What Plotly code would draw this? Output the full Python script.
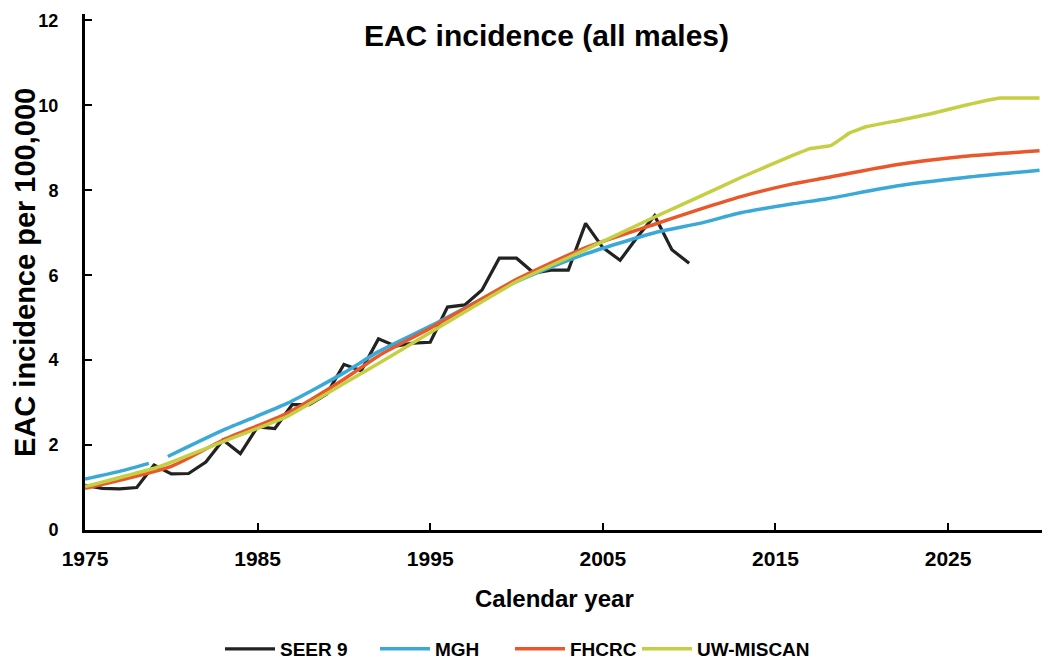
import plotly.graph_objects as go

# SEER 9 observed incidence (per 100,000)
seer_years = list(range(1975, 2011))
seer_vals = [1.05, 0.98, 0.97, 1.0, 1.53, 1.32, 1.33, 1.6, 2.12, 1.8,
             2.43, 2.39, 2.95, 2.95, 3.2, 3.9, 3.75, 4.5, 4.33, 4.4,
             4.42, 5.25, 5.3, 5.65, 6.4, 6.4, 6.05, 6.12, 6.12, 7.22,
             6.65, 6.35, 6.9, 7.4, 6.6, 6.28]

# MGH model (short gap around 1979)
mgh_years = [1975, 1977, 1978.7, None, 1979.8, 1983, 1986.7, 1990, 1992, 1995,
             2000, 2004, 2008, 2010.6, 2013, 2016, 2018, 2022, 2026, 2030.3]
mgh_vals = [1.2, 1.38, 1.57, None, 1.73, 2.35, 2.98, 3.7, 4.2, 4.8,
            5.85, 6.5, 7.0, 7.22, 7.47, 7.68, 7.8, 8.1, 8.3, 8.47]

# FHCRC model
fh_years = [1975, 1980, 1983, 1986.7, 1990, 1992, 1995, 2000, 2004, 2008,
            2010.6, 2013, 2016, 2018, 2022, 2026, 2030.3]
fh_vals = [0.98, 1.5, 2.12, 2.75, 3.55, 4.1, 4.75, 5.9, 6.65, 7.2,
           7.55, 7.85, 8.15, 8.3, 8.6, 8.8, 8.93]

# UW-MISCAN model
uw_years = [1975, 1979.3, 1983, 1986.7, 1990, 1992, 1995, 2000, 2004, 2008,
            2010.6, 2013, 2016, 2017, 2018.2, 2019.3, 2020.3, 2022.2, 2024, 2026,
            2028, 2030.3]
uw_vals = [1.02, 1.49, 2.08, 2.67, 3.45, 3.92, 4.65, 5.85, 6.6, 7.37,
           7.85, 8.3, 8.82, 8.98, 9.05, 9.35, 9.5, 9.65, 9.8, 10.0,
           10.17, 10.17]

FONT = "Liberation Sans"
COLORS = {"SEER 9": "#222222", "MGH": "#3aa9d8", "FHCRC": "#e9572b", "UW-MISCAN": "#c5cf42"}

fig = go.Figure()
fig.add_trace(go.Scatter(x=seer_years, y=seer_vals, name="SEER 9", mode="lines",
                         legend="legend",
                         line=dict(color=COLORS["SEER 9"], width=3.2)))
fig.add_trace(go.Scatter(x=mgh_years, y=mgh_vals, name="MGH", mode="lines",
                         legend="legend2",
                         line=dict(color=COLORS["MGH"], width=3.5, shape="spline", smoothing=0.6)))
fig.add_trace(go.Scatter(x=fh_years, y=fh_vals, name="FHCRC", mode="lines",
                         legend="legend3",
                         line=dict(color=COLORS["FHCRC"], width=3.5, shape="spline", smoothing=0.6)))
fig.add_trace(go.Scatter(x=uw_years, y=uw_vals, name="UW-MISCAN", mode="lines",
                         legend="legend4",
                         line=dict(color=COLORS["UW-MISCAN"], width=3.5, shape="spline", smoothing=0.3)))

# one small legend per entry so each can sit where the original has it
leg_font = dict(size=19, family=FONT, weight="bold")
def leg(x):
    return dict(orientation="h", x=x, xanchor="left", y=-0.2305, yanchor="middle",
                font=leg_font, itemwidth=50, bgcolor="rgba(0,0,0,0)")

# the page body adds an 8px offset, so the figure is 8px smaller each way
fig.update_layout(
    width=1042, height=662,
    paper_bgcolor="white", plot_bgcolor="white",
    margin=dict(l=77, r=7, t=6, b=140, autoexpand=False),
    font=dict(family=FONT, color="black"),
    title=dict(text="<b>EAC incidence (all males)</b>", x=0.5168, xanchor="center",
               y=0.959, yanchor="middle", font=dict(size=30, family=FONT)),
    showlegend=True,
    legend=leg(0.1409), legend2=leg(0.3027), legend3=leg(0.4436), legend4=leg(0.5762),
    annotations=[
        dict(text="<b>Calendar year</b>", xref="paper", yref="paper", x=0.4906, y=-0.132,
             xanchor="center", yanchor="middle", showarrow=False,
             font=dict(size=24, family=FONT)),
        dict(text="<b>EAC incidence per 100,000</b>", xref="paper", yref="paper",
             x=-0.0627, y=0.5, xanchor="center", yanchor="middle", textangle=-90,
             showarrow=False, font=dict(size=29, family=FONT)),
    ],
)

fig.update_xaxes(
    range=[1975, 2030.5], tickvals=[1975, 1985, 1995, 2005, 2015, 2025],
    showline=True, linecolor="black", linewidth=3, showgrid=False, zeroline=False,
    ticks="inside", ticklen=7, tickwidth=2, tickcolor="black",
    tickfont=dict(size=21, family=FONT, weight="bold"), ticklabelstandoff=8,
    automargin=False,
)
fig.update_yaxes(
    range=[0, 12.15], tickvals=[0, 2, 4, 6, 8, 10, 12],
    showline=True, linecolor="black", linewidth=3, showgrid=False, zeroline=False,
    ticks="inside", ticklen=7, tickwidth=2, tickcolor="black",
    tickfont=dict(size=18, family=FONT, weight="bold"), ticklabelstandoff=20,
    automargin=False,
)

fig.write_html("out.html")
